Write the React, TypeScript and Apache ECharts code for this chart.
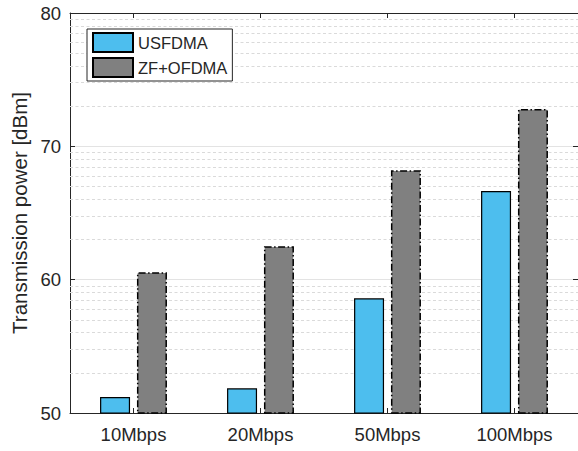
import React, { useEffect, useRef } from "react";
import * as echarts from "echarts";

const categories = ["10Mbps", "20Mbps", "50Mbps", "100Mbps"];
const usfdma = [51.2, 51.85, 58.6, 66.65];
const zfOfdma = [60.55, 62.5, 68.2, 72.8];
const yTicks = [50, 60, 70, 80];
const minorFactors = [2, 3, 4, 5, 6, 7, 8, 9];

const TEXT = "#262626";
const FONT = "'Liberation Sans', Arial, Helvetica, sans-serif";

export default function App() {
  const ref = useRef<HTMLDivElement>(null);
  useEffect(() => {
    if (!ref.current) return;
    const chart = echarts.init(ref.current, undefined, { renderer: "svg" });
    const minorLines: number[] = [];
    for (let i = 0; i < yTicks.length - 1; i++) {
      for (const k of minorFactors) minorLines.push(yTicks[i] + 10 * Math.log10(k));
    }
    const yMin = yTicks[0];
    const yMax = yTicks[yTicks.length - 1];
    chart.setOption({
      animation: false,
      textStyle: { fontFamily: FONT },
      grid: { left: 70, top: 13, right: -2, bottom: 38, containLabel: false },
      legend: {
        orient: "vertical",
        left: 87,
        top: 29,
        padding: [3, 5, 3, 5],
        itemGap: 4,
        itemWidth: 40,
        itemHeight: 19,
        icon: "rect",
        backgroundColor: "#ffffff",
        borderColor: TEXT,
        borderWidth: 1,
        textStyle: { color: TEXT, fontSize: 16.5, fontFamily: FONT },
        data: ["USFDMA", "ZF+OFDMA"],
      },
      xAxis: [
        {
          type: "category",
          data: categories,
          position: "bottom",
          axisLine: { show: true, lineStyle: { color: TEXT, width: 1 } },
          axisTick: { show: true, inside: true, alignWithLabel: true, length: 5, lineStyle: { color: TEXT } },
          axisLabel: { color: TEXT, fontSize: 18.5, margin: 12, fontFamily: FONT },
          splitLine: { show: false },
        },
        {
          type: "category",
          data: categories,
          position: "top",
          axisLine: { show: true, lineStyle: { color: TEXT, width: 1 } },
          axisTick: { show: true, inside: true, alignWithLabel: true, length: 5, lineStyle: { color: TEXT } },
          axisLabel: { show: false },
          splitLine: { show: false },
        },
      ],
      yAxis: [
        {
          type: "value",
          min: yMin,
          max: yMax,
          interval: 10,
          position: "left",
          name: "Transmission power [dBm]",
          nameLocation: "middle",
          nameGap: 35,
          nameTextStyle: { color: TEXT, fontSize: 20.5, fontFamily: FONT },
          axisLine: { show: true, lineStyle: { color: TEXT, width: 1 } },
          axisTick: { show: true, inside: true, length: 5, lineStyle: { color: TEXT } },
          axisLabel: { color: TEXT, fontSize: 18.5, margin: 9, fontFamily: FONT },
          splitLine: { show: true, lineStyle: { color: "#e3e3e3", width: 1 } },
        },
        {
          type: "value",
          min: yMin,
          max: yMax,
          interval: 10,
          position: "right",
          axisLine: { show: true, lineStyle: { color: TEXT, width: 1 } },
          axisTick: { show: true, inside: true, length: 5, lineStyle: { color: TEXT } },
          axisLabel: { show: false },
          splitLine: { show: false },
        },
      ],
      series: [
        {
          name: "minor",
          type: "line",
          data: [],
          silent: true,
          markLine: {
            silent: true,
            symbol: "none",
            z: 1,
            label: { show: false },
            lineStyle: { type: [3, 2.5], color: "#dadada", width: 1 },
            data: minorLines.map((v) => ({ yAxis: v })),
          },
        },
        {
          name: "USFDMA",
          type: "bar",
          z: 3,
          data: usfdma,
          barWidth: 30,
          barGap: "23%",
          itemStyle: { color: "#4DBEEE", borderColor: "#000000", borderWidth: 1.2 },
        },
        {
          name: "ZF+OFDMA",
          type: "bar",
          z: 3,
          data: zfOfdma,
          barWidth: 30,
          barGap: "23%",
          itemStyle: {
            color: "#808080",
            borderColor: "#000000",
            borderWidth: 1.5,
            borderType: [7, 2.5, 1.5, 2.5],
          },
        },
      ],
    });
    return () => chart.dispose();
  }, []);
  return <div ref={ref} style={{ width: 578, height: 451, position: "absolute", left: 0, top: 0 }} />;
}
